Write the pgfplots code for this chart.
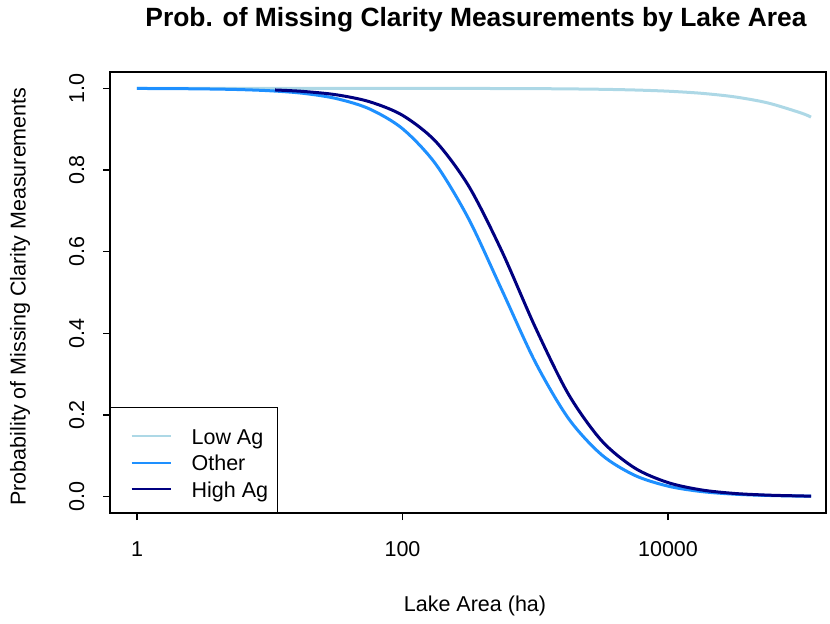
\documentclass[border=0pt]{standalone}
\usepackage{pgfplots}
\pgfplotsset{compat=1.18}
\usepackage{fontspec}
\setmainfont{Liberation Sans}
\definecolor{lowag}{HTML}{ADD8E6}
\definecolor{other}{HTML}{1E90FF}
\definecolor{highag}{HTML}{000080}
\begin{document}
\begin{tikzpicture}
\begin{axis}[name=ax, scale only axis, width=358pt, height=220.5pt,
  xmode=log, log basis x=10, xmin=0.6263, xmax=154900, ymin=-0.04, ymax=1.04,
  xtick={1,100,10000}, xticklabels={1,100,10000}, xminorticks=false,
  ytick={0,0.2,0.4,0.6,0.8,1.0}, yticklabels={0.0,0.2,0.4,0.6,0.8,1.0},
  xtick pos=bottom, ytick pos=left,
  tick align=outside, major tick length=3.5pt,
  tick style={black, line width=0.6pt},
  axis line style={line width=0.6pt},
  every tick label/.append style={font=\fontsize{10.75}{12}\selectfont},
  xticklabel style={anchor=north, inner sep=0pt, yshift=-10.6pt},
  yticklabel style={rotate=90, anchor=south, inner sep=0pt},
  yticklabel shift=9.15pt,
  legend style={at={(0,0)}, anchor=south west, draw=black, line width=0.6pt,
    inner xsep=4.8pt, inner ysep=5.15pt, row sep=-2.45pt, column sep=10pt,
    font=\fontsize{10.75}{12}\selectfont,
    nodes={inner sep=0pt, text height=13.2pt, text depth=2.5pt, anchor=base west}},
  legend cell align=left,
  legend image code/.code={\path[draw=none] (0pt,0pt) -- (25.2pt,0pt); \draw[#1, line width=1pt] (5.7pt,3.85pt) -- (25.2pt,3.85pt);},
]
\addplot[lowag, line width=1.5pt, smooth] coordinates {
(1,1.0000) (10,0.99999) (100,0.99991) (316.2,0.99974) (1000,0.99922)
(1778,0.99864) (3162,0.99765) (5623,0.99593) (10000,0.9930) (17783,0.9879)
(31623,0.9792) (56234,0.9644) (100000,0.9399) (119400,0.9296)};
\addlegendentry{Low Ag}
\addplot[other, line width=1.5pt, smooth] coordinates {
(1,0.9997) (1.778,0.99934) (3.162,0.9986) (5.623,0.99716) (10,0.9941)
(17.78,0.9879) (31.62,0.9751) (56.23,0.9498) (100,0.9012) (177.8,0.8146)
(316.2,0.6793) (562.3,0.505) (1000,0.3296) (1778,0.1916) (3162,0.1025)
(5623,0.0521) (10000,0.0258) (17783,0.0126) (31623,0.0061) (56234,0.0030)
(100000,0.00143) (119400,0.0011)};
\addlegendentry{Other}
\addplot[highag, line width=1.5pt, smooth] coordinates {
(10.96,0.9960) (17.78,0.9925) (31.62,0.9843) (56.23,0.9674) (100,0.934)
(177.8,0.870) (316.2,0.760) (562.3,0.600) (1000,0.415) (1778,0.251)
(3162,0.137) (5623,0.070) (10000,0.0345) (17783,0.0166) (31623,0.0079)
(56234,0.0038) (100000,0.0018) (119400,0.00143)};
\addlegendentry{High Ag}
\end{axis}
\node[font=\bfseries\fontsize{13.2}{15}\selectfont] at ([shift={(4pt,26pt)}]ax.north) {Prob. of Missing Clarity Measurements by Lake Area};
\node[font=\fontsize{10.75}{12}\selectfont] at ([shift={(3.5pt,-46.5pt)}]ax.south) {Lake Area (ha)};
\node[font=\fontsize{10.75}{12}\selectfont, rotate=90] at ([shift={(-45pt,-2pt)}]ax.west) {Probability of Missing Clarity Measurements};
\pgfresetboundingbox
\path[use as bounding box] ([shift={(-55pt,-55pt)}]ax.south west) rectangle ([shift={(2pt,36pt)}]ax.north east);
\end{tikzpicture}
\end{document}
